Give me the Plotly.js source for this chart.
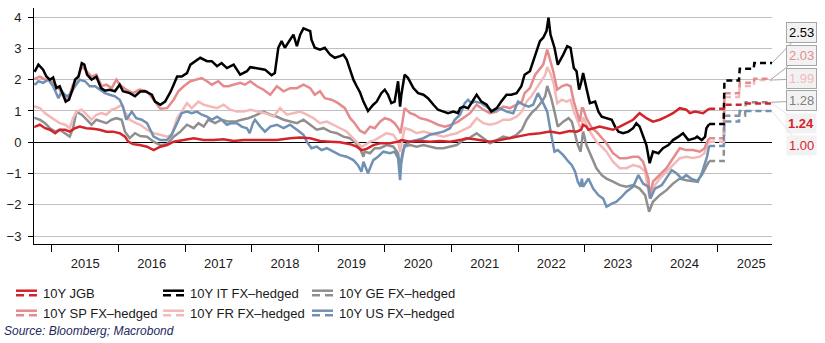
<!DOCTYPE html>
<html>
<head>
<meta charset="utf-8">
<script src="https://cdn.plot.ly/plotly-3.0.1.min.js"></script>
<style>html,body{margin:0;padding:0;background:#fff;}#chart{width:825px;height:343px;}</style>
</head>
<body>
<div id="chart"></div>
<script>
// ---- Data: [decimal year, yield %] ----
const seriesNames = ["10Y JGB", "10Y IT FX–hedged", "10Y GE FX–hedged", "10Y SP FX–hedged", "10Y FR FX–hedged", "10Y US FX–hedged"];

const IT = [[2014.74,2.25],[2014.76,2.32],[2014.80,2.48],[2014.87,2.32],[2014.92,2.1],[2014.97,2.0],[2015.02,2.07],[2015.07,1.73],[2015.12,1.79],[2015.17,1.52],[2015.21,1.3],[2015.26,1.36],[2015.31,1.68],[2015.35,2.0],[2015.40,2.1],[2015.45,2.53],[2015.49,2.48],[2015.53,2.16],[2015.60,2.0],[2015.67,2.1],[2015.74,1.73],[2015.80,1.65],[2015.87,1.68],[2015.95,1.63],[2016.02,1.84],[2016.07,1.63],[2016.17,1.57],[2016.25,1.47],[2016.33,1.62],[2016.40,1.63],[2016.50,1.52],[2016.55,1.30],[2016.63,1.2],[2016.70,1.3],[2016.78,1.6],[2016.83,1.84],[2016.88,2.1],[2016.95,2.1],[2017.03,2.21],[2017.08,2.48],[2017.15,2.59],[2017.23,2.7],[2017.33,2.59],[2017.40,2.59],[2017.48,2.43],[2017.55,2.53],[2017.63,2.37],[2017.73,2.48],[2017.83,2.16],[2017.93,2.27],[2017.98,2.4],[2018.08,2.37],[2018.20,2.32],[2018.30,2.14],[2018.35,2.21],[2018.40,3.02],[2018.45,3.23],[2018.50,3.02],[2018.58,3.28],[2018.63,3.44],[2018.68,3.07],[2018.73,3.44],[2018.78,3.64],[2018.83,3.6],[2018.88,3.55],[2018.90,3.28],[2018.95,3.02],[2019.03,2.96],[2019.10,3.02],[2019.18,2.8],[2019.25,2.7],[2019.33,2.75],[2019.38,2.8],[2019.43,2.64],[2019.48,2.32],[2019.53,2.0],[2019.58,1.79],[2019.63,1.6],[2019.68,1.3],[2019.75,1.0],[2019.83,1.2],[2019.88,1.3],[2019.95,1.57],[2020.0,1.68],[2020.05,1.52],[2020.10,1.25],[2020.15,1.3],[2020.20,1.95],[2020.23,1.14],[2020.25,1.52],[2020.30,2.16],[2020.35,2.05],[2020.43,1.73],[2020.50,1.57],[2020.58,1.52],[2020.65,1.41],[2020.73,1.2],[2020.80,1.04],[2020.88,0.98],[2020.95,0.93],[2021.03,0.98],[2021.10,0.93],[2021.13,1.09],[2021.18,1.14],[2021.25,1.09],[2021.32,1.3],[2021.38,1.52],[2021.45,1.3],[2021.53,1.2],[2021.60,0.98],[2021.68,1.09],[2021.75,1.3],[2021.83,1.52],[2021.90,1.52],[2021.98,1.57],[2022.05,1.79],[2022.10,2.16],[2022.18,2.27],[2022.25,2.75],[2022.33,3.23],[2022.38,3.34],[2022.43,3.55],[2022.46,3.98],[2022.49,3.44],[2022.55,3.02],[2022.60,2.48],[2022.68,2.8],[2022.74,3.07],[2022.79,3.02],[2022.84,2.37],[2022.88,2.27],[2022.92,1.68],[2022.95,1.9],[2022.98,2.21],[2023.03,1.73],[2023.08,1.25],[2023.16,1.3],[2023.21,0.98],[2023.26,0.82],[2023.33,0.77],[2023.41,0.72],[2023.46,0.5],[2023.51,0.34],[2023.58,0.29],[2023.66,0.34],[2023.73,0.45],[2023.78,0.61],[2023.83,0.5],[2023.88,0.18],[2023.93,-0.09],[2023.98,-0.67],[2024.03,-0.3],[2024.11,-0.35],[2024.18,-0.19],[2024.26,-0.09],[2024.33,0.07],[2024.41,0.18],[2024.48,0.29],[2024.56,0.07],[2024.62,0.10],[2024.66,0.13],[2024.69,0.18],[2024.76,0.07],[2024.81,0.18],[2024.83,0.45],[2024.87,0.58]];
const IT_fwd = [[2024.87,0.58],[2025.09,0.58],[2025.10,1.97],[2025.32,1.97],[2025.33,2.35],[2025.54,2.35],[2025.55,2.53],[2025.82,2.53]];

const SP = [[2014.74,2.0],[2014.75,2.03],[2014.82,2.1],[2014.90,2.0],[2014.97,2.0],[2015.05,1.84],[2015.12,1.68],[2015.20,1.36],[2015.25,1.41],[2015.32,1.84],[2015.40,2.1],[2015.45,2.43],[2015.52,2.27],[2015.60,2.1],[2015.67,2.16],[2015.75,1.79],[2015.82,1.84],[2015.90,1.73],[2015.97,2.0],[2016.02,1.84],[2016.12,1.68],[2016.22,1.57],[2016.32,1.68],[2016.43,1.63],[2016.53,1.36],[2016.63,1.07],[2016.73,1.09],[2016.83,1.36],[2016.90,1.63],[2016.98,1.79],[2017.08,1.95],[2017.15,2.0],[2017.25,2.05],[2017.33,1.95],[2017.40,1.84],[2017.50,1.95],[2017.58,1.79],[2017.65,1.79],[2017.75,1.84],[2017.83,1.9],[2017.90,1.84],[2017.98,1.95],[2018.08,1.79],[2018.18,1.68],[2018.28,1.52],[2018.38,1.79],[2018.48,1.63],[2018.58,1.73],[2018.68,1.73],[2018.78,1.84],[2018.88,1.73],[2018.95,1.52],[2019.03,1.63],[2019.10,1.41],[2019.20,1.36],[2019.30,1.25],[2019.40,1.09],[2019.48,0.77],[2019.55,0.61],[2019.63,0.37],[2019.70,0.29],[2019.78,0.5],[2019.85,0.45],[2019.93,0.66],[2020.0,0.77],[2020.08,0.72],[2020.15,0.61],[2020.22,0.4],[2020.24,0.29],[2020.27,0.77],[2020.30,1.09],[2020.38,0.93],[2020.45,0.88],[2020.53,0.77],[2020.63,0.72],[2020.70,0.66],[2020.80,0.56],[2020.90,0.5],[2021.0,0.56],[2021.10,0.66],[2021.20,0.82],[2021.28,0.93],[2021.38,1.2],[2021.48,1.04],[2021.58,0.93],[2021.68,0.98],[2021.78,1.14],[2021.88,1.09],[2021.98,1.2],[2022.06,1.3],[2022.10,1.57],[2022.18,1.73],[2022.26,2.16],[2022.33,2.37],[2022.38,2.48],[2022.44,2.96],[2022.48,2.64],[2022.53,2.27],[2022.59,1.68],[2022.66,1.79],[2022.73,1.84],[2022.79,1.79],[2022.84,1.3],[2022.89,0.98],[2022.93,0.66],[2022.96,1.09],[2022.98,1.09],[2023.03,0.77],[2023.11,0.45],[2023.18,0.34],[2023.26,0.13],[2023.33,-0.03],[2023.43,-0.35],[2023.53,-0.51],[2023.63,-0.51],[2023.73,-0.46],[2023.81,-0.46],[2023.88,-0.62],[2023.96,-1.16],[2023.98,-1.74],[2024.03,-1.26],[2024.13,-1.05],[2024.23,-0.83],[2024.33,-0.51],[2024.43,-0.19],[2024.53,-0.25],[2024.63,-0.25],[2024.73,-0.3],[2024.80,-0.2],[2024.84,0.0],[2024.87,0.13]];
const SP_fwd = [[2024.87,0.13],[2025.09,0.13],[2025.10,1.57],[2025.32,1.57],[2025.33,1.9],[2025.54,1.9],[2025.55,2.03],[2025.82,2.03]];

const FR = [[2014.74,1.1],[2014.75,1.14],[2014.82,1.09],[2014.90,0.93],[2014.97,0.82],[2015.05,0.72],[2015.12,0.61],[2015.20,0.56],[2015.27,0.45],[2015.32,0.77],[2015.37,0.98],[2015.45,1.04],[2015.52,0.88],[2015.60,0.72],[2015.67,0.88],[2015.75,0.93],[2015.82,0.88],[2015.90,1.04],[2015.97,1.09],[2016.05,1.2],[2016.10,0.98],[2016.17,0.72],[2016.27,0.61],[2016.33,0.56],[2016.43,0.4],[2016.53,0.29],[2016.63,0.24],[2016.73,0.18],[2016.80,0.24],[2016.88,0.77],[2016.95,0.98],[2017.03,1.25],[2017.10,1.09],[2017.20,1.3],[2017.28,1.2],[2017.38,1.14],[2017.48,1.09],[2017.58,1.2],[2017.68,1.04],[2017.78,0.98],[2017.88,0.98],[2017.98,1.04],[2018.08,0.98],[2018.20,0.93],[2018.33,0.82],[2018.43,1.09],[2018.53,0.88],[2018.63,0.93],[2018.73,0.98],[2018.83,0.88],[2018.93,0.77],[2019.03,0.61],[2019.13,0.66],[2019.23,0.56],[2019.33,0.45],[2019.43,0.34],[2019.50,0.18],[2019.58,0.02],[2019.65,-0.14],[2019.70,-0.09],[2019.78,0.02],[2019.85,0.07],[2019.93,0.18],[2020.03,0.29],[2020.13,0.24],[2020.20,0.02],[2020.23,-0.3],[2020.27,0.13],[2020.30,0.45],[2020.38,0.4],[2020.48,0.29],[2020.58,0.34],[2020.68,0.29],[2020.78,0.24],[2020.88,0.18],[2020.98,0.24],[2021.08,0.29],[2021.18,0.4],[2021.28,0.5],[2021.38,0.77],[2021.48,0.61],[2021.58,0.56],[2021.68,0.61],[2021.78,0.72],[2021.88,0.72],[2021.98,0.82],[2022.06,0.98],[2022.13,1.3],[2022.20,1.47],[2022.28,1.73],[2022.36,2.0],[2022.41,2.15],[2022.44,2.4],[2022.49,2.2],[2022.54,1.84],[2022.59,1.25],[2022.66,1.36],[2022.73,1.3],[2022.79,1.36],[2022.84,0.98],[2022.90,0.66],[2022.95,0.4],[2022.98,0.8],[2023.03,0.56],[2023.11,0.24],[2023.18,0.02],[2023.26,-0.14],[2023.33,-0.3],[2023.43,-0.62],[2023.53,-0.83],[2023.63,-0.83],[2023.73,-0.73],[2023.83,-0.78],[2023.91,-0.94],[2023.98,-1.8],[2024.06,-1.37],[2024.13,-1.16],[2024.23,-0.94],[2024.33,-0.73],[2024.43,-0.51],[2024.53,-0.46],[2024.63,-0.5],[2024.73,-0.46],[2024.80,-0.35],[2024.84,-0.1],[2024.87,0.02]];
const FR_fwd = [[2024.87,0.02],[2025.09,0.02],[2025.10,1.45],[2025.32,1.45],[2025.33,1.8],[2025.54,1.8],[2025.55,1.99],[2025.82,1.99]];

const GE = [[2014.74,0.75],[2014.75,0.77],[2014.82,0.72],[2014.90,0.61],[2014.97,0.45],[2015.05,0.34],[2015.12,0.4],[2015.20,0.29],[2015.27,0.18],[2015.32,0.45],[2015.37,0.98],[2015.45,0.88],[2015.52,0.72],[2015.60,0.56],[2015.67,0.72],[2015.75,0.66],[2015.82,0.61],[2015.90,0.72],[2015.97,0.77],[2016.05,0.72],[2016.10,0.34],[2016.17,0.13],[2016.25,0.29],[2016.33,0.2],[2016.43,0.18],[2016.53,0.02],[2016.63,-0.09],[2016.73,-0.06],[2016.83,0.18],[2016.93,0.34],[2017.03,0.56],[2017.13,0.45],[2017.20,0.61],[2017.28,0.5],[2017.35,0.72],[2017.45,0.61],[2017.55,0.72],[2017.65,0.66],[2017.75,0.66],[2017.85,0.72],[2017.95,0.77],[2018.05,0.85],[2018.18,0.98],[2018.28,0.88],[2018.38,0.82],[2018.48,0.72],[2018.58,0.66],[2018.68,0.61],[2018.78,0.72],[2018.88,0.56],[2018.98,0.4],[2019.08,0.45],[2019.18,0.34],[2019.28,0.29],[2019.38,0.18],[2019.48,0.13],[2019.55,0.02],[2019.63,-0.19],[2019.68,-0.46],[2019.70,-0.3],[2019.78,-0.35],[2019.85,-0.19],[2019.93,-0.19],[2020.03,-0.09],[2020.13,-0.14],[2020.20,-0.35],[2020.23,-0.83],[2020.27,-0.3],[2020.30,-0.14],[2020.38,-0.09],[2020.48,-0.14],[2020.58,-0.09],[2020.68,-0.14],[2020.78,-0.19],[2020.88,-0.19],[2020.98,-0.14],[2021.08,-0.09],[2021.18,0.07],[2021.28,0.15],[2021.38,0.29],[2021.48,0.13],[2021.58,-0.03],[2021.68,0.07],[2021.78,0.18],[2021.88,0.13],[2021.98,0.24],[2022.06,0.4],[2022.13,0.72],[2022.20,0.93],[2022.28,1.09],[2022.36,1.3],[2022.41,1.47],[2022.44,1.8],[2022.50,1.41],[2022.55,0.98],[2022.60,0.5],[2022.68,0.66],[2022.76,0.77],[2022.81,0.66],[2022.86,0.24],[2022.90,-0.09],[2022.94,-0.3],[2022.96,0.07],[2022.98,0.34],[2023.03,-0.09],[2023.11,-0.51],[2023.18,-0.83],[2023.26,-1.05],[2023.33,-1.16],[2023.43,-1.26],[2023.53,-1.37],[2023.63,-1.42],[2023.73,-1.37],[2023.83,-1.48],[2023.91,-1.69],[2023.97,-2.22],[2024.03,-1.9],[2024.13,-1.69],[2024.23,-1.53],[2024.33,-1.32],[2024.43,-1.16],[2024.53,-1.21],[2024.63,-1.23],[2024.68,-1.26],[2024.76,-1.05],[2024.81,-0.83],[2024.87,-0.6]];
const GE_fwd = [[2024.87,-0.6],[2025.09,-0.6],[2025.10,0.85],[2025.41,0.85],[2025.42,1.28],[2025.82,1.28]];

const US = [[2014.74,1.9],[2014.75,1.84],[2014.80,1.95],[2014.87,1.9],[2014.95,2.0],[2015.02,1.79],[2015.10,1.41],[2015.15,1.63],[2015.22,1.47],[2015.27,1.52],[2015.35,1.79],[2015.42,2.0],[2015.50,1.95],[2015.57,1.79],[2015.65,1.79],[2015.72,1.68],[2015.80,1.57],[2015.87,1.52],[2015.95,1.47],[2016.02,1.36],[2016.07,1.14],[2016.12,0.72],[2016.20,0.98],[2016.27,0.77],[2016.35,0.72],[2016.43,0.61],[2016.53,0.18],[2016.63,0.07],[2016.73,0.07],[2016.80,0.24],[2016.88,0.61],[2016.95,0.93],[2017.03,0.98],[2017.10,0.93],[2017.18,0.98],[2017.25,0.88],[2017.33,0.82],[2017.40,0.72],[2017.48,0.82],[2017.55,0.72],[2017.63,0.56],[2017.70,0.61],[2017.78,0.61],[2017.85,0.5],[2017.93,0.45],[2017.97,0.29],[2018.02,0.61],[2018.05,0.72],[2018.13,0.5],[2018.20,0.34],[2018.28,0.5],[2018.38,0.56],[2018.48,0.45],[2018.58,0.56],[2018.68,0.4],[2018.78,0.24],[2018.83,0.02],[2018.90,-0.19],[2018.98,-0.14],[2019.05,-0.25],[2019.13,-0.19],[2019.23,-0.3],[2019.33,-0.41],[2019.43,-0.46],[2019.53,-0.57],[2019.60,-0.73],[2019.65,-0.94],[2019.68,-0.62],[2019.75,-0.99],[2019.83,-0.57],[2019.90,-0.46],[2019.98,-0.3],[2020.08,-0.35],[2020.15,-0.3],[2020.20,-0.51],[2020.23,-1.21],[2020.25,-0.62],[2020.30,-0.09],[2020.38,0.02],[2020.48,0.07],[2020.58,0.13],[2020.68,0.24],[2020.78,0.29],[2020.88,0.34],[2020.98,0.45],[2021.05,0.72],[2021.13,0.88],[2021.20,1.25],[2021.25,1.36],[2021.30,1.25],[2021.35,1.3],[2021.45,1.25],[2021.56,1.09],[2021.63,0.98],[2021.73,1.09],[2021.83,0.98],[2021.93,0.93],[2022.0,1.3],[2022.08,1.2],[2022.16,1.14],[2022.23,1.2],[2022.30,1.57],[2022.38,1.25],[2022.44,0.98],[2022.50,0.24],[2022.55,-0.3],[2022.60,-0.25],[2022.68,-0.41],[2022.76,-0.62],[2022.81,-0.73],[2022.86,-0.94],[2022.90,-1.26],[2022.94,-1.42],[2022.96,-1.16],[2022.98,-1.42],[2023.06,-1.16],[2023.13,-1.48],[2023.21,-1.69],[2023.28,-1.8],[2023.33,-2.06],[2023.41,-1.96],[2023.48,-1.9],[2023.56,-1.74],[2023.63,-1.58],[2023.73,-1.42],[2023.81,-1.05],[2023.88,-1.32],[2023.96,-1.42],[2023.99,-1.8],[2024.06,-1.48],[2024.16,-1.37],[2024.23,-1.16],[2024.31,-0.89],[2024.38,-0.99],[2024.46,-1.16],[2024.53,-1.05],[2024.60,-1.16],[2024.66,-1.21],[2024.70,-1.26],[2024.76,-0.99],[2024.81,-0.67],[2024.84,-0.45],[2024.87,-0.12]];
const US_fwd = [[2024.87,-0.12],[2025.09,-0.12],[2025.10,0.66],[2025.32,0.66],[2025.33,1.0],[2025.82,1.0]];

const JGB = [[2014.74,0.52],[2014.75,0.5],[2014.82,0.56],[2014.90,0.45],[2014.97,0.4],[2015.05,0.29],[2015.12,0.4],[2015.20,0.4],[2015.27,0.34],[2015.35,0.45],[2015.42,0.5],[2015.52,0.45],[2015.62,0.43],[2015.72,0.4],[2015.82,0.34],[2015.92,0.34],[2016.02,0.29],[2016.10,0.18],[2016.15,0.02],[2016.22,-0.06],[2016.32,-0.09],[2016.43,-0.14],[2016.53,-0.25],[2016.63,-0.14],[2016.73,-0.09],[2016.83,0.02],[2016.98,0.07],[2017.13,0.13],[2017.28,0.07],[2017.43,0.07],[2017.58,0.1],[2017.73,0.04],[2017.88,0.07],[2018.0,0.07],[2018.18,0.07],[2018.38,0.07],[2018.58,0.13],[2018.73,0.15],[2018.88,0.13],[2019.03,0.04],[2019.18,0.02],[2019.33,0.0],[2019.48,-0.06],[2019.58,-0.14],[2019.65,-0.25],[2019.73,-0.21],[2019.83,-0.09],[2019.93,-0.03],[2020.08,-0.03],[2020.20,0.02],[2020.25,0.07],[2020.38,0.02],[2020.53,0.04],[2020.68,0.02],[2020.83,0.04],[2020.98,0.02],[2021.13,0.07],[2021.23,0.13],[2021.35,0.1],[2021.43,0.07],[2021.58,0.02],[2021.73,0.07],[2021.88,0.13],[2022.03,0.18],[2022.18,0.26],[2022.33,0.29],[2022.48,0.34],[2022.63,0.29],[2022.78,0.36],[2022.88,0.34],[2022.95,0.4],[2022.98,0.56],[2023.03,0.5],[2023.06,0.4],[2023.13,0.45],[2023.23,0.5],[2023.33,0.45],[2023.43,0.4],[2023.53,0.5],[2023.63,0.61],[2023.73,0.72],[2023.83,0.93],[2023.93,0.77],[2024.03,0.66],[2024.13,0.72],[2024.23,0.82],[2024.33,0.93],[2024.43,1.09],[2024.53,1.04],[2024.58,0.93],[2024.66,0.98],[2024.78,0.93],[2024.86,1.04],[2024.87,1.07]];
const JGB_fwd = [[2024.87,1.07],[2025.09,1.07],[2025.10,1.2],[2025.41,1.2],[2025.42,1.24],[2025.82,1.24]];

const lastValues = [1.24, 2.53, 1.28, 2.03, 1.99, 1.00];
const labelTexts = ["1.24", "2.53", "1.28", "2.03", "1.99", "1.00"];
const yTicks = [-3, -2, -1, 0, 1, 2, 3, 4];

// ---- Styling ----
const colors = ["#d3242c", "#000000", "#8f8f8f", "#e68b8d", "#f3b9b9", "#7090b4"];
const FONT = "Arial, 'Liberation Sans', sans-serif";

function toDate(t) {
  const y = Math.floor(t);
  const s = Date.UTC(y, 0, 1), e = Date.UTC(y + 1, 0, 1);
  return new Date(s + (t - y) * (e - s)).toISOString().slice(0, 10);
}
const hist = [JGB, IT, GE, SP, FR, US];
const fwd = [JGB_fwd, IT_fwd, GE_fwd, SP_fwd, FR_fwd, US_fwd];
const drawOrder = [2, 4, 3, 5, 1, 0];

const traces = [];
drawOrder.forEach(i => {
  traces.push({
    type: "scatter", mode: "lines", name: seriesNames[i], showlegend: false, hoverinfo: "skip",
    x: fwd[i].map(p => toDate(p[0])), y: fwd[i].map(p => p[1]),
    line: {color: colors[i], width: 2.5, dash: "6px,4px"}
  });
});
drawOrder.forEach(i => {
  traces.push({
    type: "scatter", mode: "lines", name: seriesNames[i], showlegend: false, hoverinfo: "skip",
    x: hist[i].map(p => toDate(p[0])), y: hist[i].map(p => p[1]),
    line: {color: colors[i], width: 2.5}
  });
});

// plot box in pixels
const L = 34, R = 772, T = 8, B = 244;
const px = x => (x - L) / (R - L);
const py = y => (B - y) / (B - T);

const shapes = [];
const annotations = [];

// manual legend (double-line symbols)
const legendCols = [16, 163, 312];
const legendRows = [293, 313];
seriesNames.forEach((name, i) => {
  const col = i % 3, row = Math.floor(i / 3);
  const x0 = legendCols[col], yc = legendRows[row];
  shapes.push({type: "line", xref: "paper", yref: "paper", x0: px(x0), x1: px(x0 + 21), y0: py(yc - 2.3), y1: py(yc - 2.3),
    line: {color: colors[i], width: 2.5}});
  shapes.push({type: "line", xref: "paper", yref: "paper", x0: px(x0), x1: px(x0 + 21), y0: py(yc + 2.3), y1: py(yc + 2.3),
    line: {color: colors[i], width: 2.5, dash: "8px,5px"}});
  annotations.push({xref: "paper", yref: "paper", x: px(x0 + 25), y: py(yc), xanchor: "left", yanchor: "middle",
    text: name, showarrow: false, font: {family: FONT, size: 13, color: "#1a1a1a"}});
});

annotations.push({xref: "paper", yref: "paper", x: px(2), y: py(331), xanchor: "left", yanchor: "middle",
  text: "<i>Source: Bloomberg; Macrobond</i>", showarrow: false, font: {family: FONT, size: 12, color: "#1c2a5e"}});

// value labels on the right
const labelOrder = [1, 3, 4, 2, 0, 5];
const labelY = [33, 56, 79, 101, 124, 146];
const endX = toDate(2025.815);
labelOrder.forEach((i, k) => {
  const pointY = 142.3 - lastValues[i] * 31.3;
  const bordered = k < 4;
  annotations.push({
    xref: "x", yref: "y", x: endX, y: lastValues[i], ax: 29, ay: labelY[k] - pointY,
    text: i === 0 ? "<b>" + labelTexts[i] + "</b>" : labelTexts[i],
    showarrow: true, arrowhead: 0, arrowwidth: 1, arrowcolor: bordered ? "#a6a6a6" : "#e6e6e6", standoff: 0,
    bgcolor: "#f2f2f2", bordercolor: bordered ? "#a6a6a6" : "rgba(0,0,0,0)", borderwidth: 1, borderpad: 2,
    font: {family: FONT, size: 13, color: (i === 0 || i === 5) ? "#d3242c" : colors[i] === "#8f8f8f" ? "#7f7f7f" : colors[i]}
  });
});

const layout = {
  width: 825, height: 343,
  margin: {l: L, r: 825 - R, t: T, b: 343 - B},
  paper_bgcolor: "#ffffff", plot_bgcolor: "#ffffff",
  font: {family: FONT, size: 13, color: "#1a1a1a"},
  showlegend: false,
  xaxis: {
    type: "date", range: [toDate(2014.734), toDate(2025.815)],
    tick0: "2015-01-01", dtick: "M12", ticklabelmode: "period", tickformat: "%Y",
    ticks: "outside", ticklen: 7, tickcolor: "#000", tickwidth: 1,
    showline: true, linecolor: "#000", linewidth: 1, showgrid: false, zeroline: false,
    tickfont: {family: FONT, size: 13, color: "#1a1a1a"}
  },
  yaxis: {
    range: [-3.25, 4.29], tickvals: yTicks, ticks: "outside", ticklen: 5, tickcolor: "#000",
    showline: true, linecolor: "#000", linewidth: 1,
    showgrid: true, gridcolor: "#bfbfbf", gridwidth: 1,
    zeroline: true, zerolinecolor: "#000", zerolinewidth: 1,
    ticklabelstandoff: 4,
    tickfont: {family: FONT, size: 13, color: "#1a1a1a"}
  },
  shapes: shapes,
  annotations: annotations
};

Plotly.newPlot("chart", traces, layout, {staticPlot: true, displayModeBar: false});
</script>
</body>
</html>
